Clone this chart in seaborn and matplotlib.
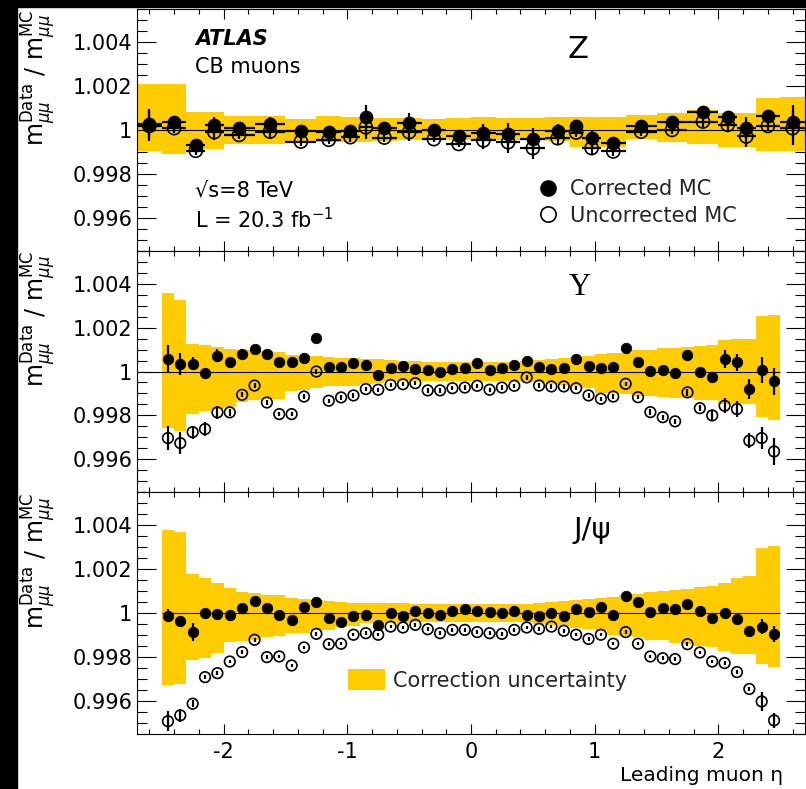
import numpy as np
import pandas as pd
import matplotlib
matplotlib.use("Agg")
import matplotlib.pyplot as plt
import seaborn as sns
from matplotlib.ticker import MultipleLocator
from matplotlib.lines import Line2D
from matplotlib.patches import Patch, Rectangle

# ---------------- data (deviations from 1 in units of 1e-3) ----------------
# Z panel: variable eta bins
z_edges = [-2.7, -2.5, -2.3, -2.15, -2.0, -1.75, -1.5, -1.25, -1.05, -0.9, -0.8, -0.6,
           -0.4, -0.2, 0.0, 0.2, 0.4, 0.6, 0.8, 0.9, 1.05, 1.25, 1.5, 1.75, 2.0, 2.15,
           2.3, 2.5, 2.7]
z_corr = [0.27, 0.36, -0.71, 0.23, 0.10, 0.27, -0.05, -0.08, -0.04, 0.60, 0.08, 0.33,
          0.00, -0.27, -0.12, -0.20, -0.42, -0.05, 0.20, -0.35, -0.58, 0.18, 0.38, 0.80,
          0.60, 0.08, 0.64, 0.38]
z_unc = [0.18, 0.08, -0.95, -0.10, -0.23, -0.08, -0.53, -0.45, -0.33, 0.12, -0.35, -0.10,
         -0.42, -0.64, -0.48, -0.56, -0.83, -0.38, -0.12, -0.83, -0.98, -0.08, 0.00, 0.38,
         0.23, -0.30, 0.18, 0.08]
z_err = [0.70, 0.20, 0.20, 0.38, 0.20, 0.30, 0.20, 0.20, 0.20, 0.53, 0.20, 0.42,
         0.15, 0.15, 0.40, 0.50, 0.50, 0.30, 0.20, 0.30, 0.20, 0.20, 0.20, 0.25,
         0.25, 0.50, 0.25, 0.76]
z_band_hi = [2.10, 2.10, 0.80, 0.80, 0.65, 0.65, 0.50, 0.65, 0.60, 0.60, 0.55, 0.55,
             0.50, 0.55, 0.60, 0.55, 0.55, 0.60, 0.60, 0.60, 0.60, 0.68, 0.76, 0.90,
             0.76, 0.76, 1.45, 1.50]
z_band_lo = [-0.95, -1.10, -0.85, -0.85, -0.65, -0.65, -0.60, -0.55, -0.55, -0.55, -0.50, -0.45,
             -0.45, -0.45, -0.45, -0.45, -0.45, -0.50, -0.80, -0.80, -0.80, -0.40, -0.53, -0.64,
             -0.76, -0.76, -0.95, -0.98]

# Upsilon and J/psi panels: 0.1-wide eta bins
fine_eta = [-2.45, -2.35, -2.25, -2.15, -2.05, -1.95, -1.85, -1.75, -1.65, -1.55,
            -1.45, -1.35, -1.25, -1.15, -1.05, -0.95, -0.85, -0.75, -0.65, -0.55,
            -0.45, -0.35, -0.25, -0.15, -0.05, 0.05, 0.15, 0.25, 0.35, 0.45,
            0.55, 0.65, 0.75, 0.85, 0.95, 1.05, 1.15, 1.25, 1.35, 1.45,
            1.55, 1.65, 1.75, 1.85, 1.95, 2.05, 2.15, 2.25, 2.35, 2.45]
fine_width = 0.1

y_corr = [0.56, 0.35, 0.35, -0.08, 0.71, 0.42, 0.80, 1.03, 0.79, 0.41,
          0.41, 0.61, 1.52, 0.20, 0.20, 0.38, 0.30, -0.15, 0.15, 0.23,
          0.12, 0.05, -0.03, 0.12, 0.18, 0.38, 0.08, 0.18, 0.30, 0.48,
          0.20, 0.11, 0.18, 0.56, 0.26, 0.18, 0.20, 1.06, 0.42, 0.03,
          0.08, -0.08, 0.73, 0.00, -0.23, 0.56, 0.41, -0.80, 0.08, -0.45]
y_unc = [-3.03, -3.26, -2.76, -2.62, -1.86, -1.86, -1.06, -0.64, -1.41, -1.94,
         -1.94, -1.14, 0.00, -1.33, -1.18, -1.09, -0.80, -0.83, -0.61, -0.58,
         -0.53, -0.86, -0.86, -0.76, -0.73, -0.65, -0.83, -0.73, -0.65, -0.27,
         -0.64, -0.68, -0.68, -0.76, -1.09, -1.24, -1.14, -0.56, -1.17, -1.85,
         -2.08, -2.27, -0.95, -1.67, -2.00, -1.56, -1.71, -3.15, -3.03, -3.64]
y_corr_err = [0.65, 0.50, 0.30, 0.25, 0.30, 0.15, 0.12, 0.12, 0.12, 0.10,
              0.10, 0.10, 0.10, 0.10, 0.10, 0.10, 0.10, 0.10, 0.10, 0.10,
              0.10, 0.10, 0.10, 0.10, 0.10, 0.10, 0.10, 0.10, 0.10, 0.10,
              0.10, 0.10, 0.10, 0.10, 0.10, 0.10, 0.10, 0.10, 0.10, 0.12,
              0.12, 0.12, 0.20, 0.15, 0.20, 0.40, 0.40, 0.45, 0.60, 0.60]
y_unc_err = [0.55, 0.50, 0.30, 0.30, 0.30, 0.15, 0.12, 0.12, 0.12, 0.10,
             0.10, 0.10, 0.10, 0.10, 0.10, 0.10, 0.10, 0.10, 0.10, 0.10,
             0.10, 0.10, 0.10, 0.10, 0.10, 0.10, 0.10, 0.10, 0.10, 0.10,
             0.10, 0.10, 0.10, 0.10, 0.10, 0.10, 0.10, 0.10, 0.10, 0.12,
             0.12, 0.12, 0.15, 0.15, 0.20, 0.35, 0.35, 0.35, 0.50, 0.60]
y_band_hi = [3.56, 3.26, 1.26, 1.21, 1.10, 1.03, 1.00, 0.98, 0.93, 0.90,
             0.75, 0.71, 0.70, 0.68, 0.62, 0.60, 0.58, 0.56, 0.53, 0.50,
             0.47, 0.45, 0.45, 0.45, 0.43, 0.42, 0.42, 0.43, 0.45, 0.50,
             0.53, 0.58, 0.62, 0.65, 0.70, 0.80, 0.82, 0.85, 0.98, 1.00,
             1.06, 1.08, 1.10, 1.17, 1.20, 1.44, 1.46, 1.50, 2.53, 2.55]
y_band_lo = [-2.55, -2.70, -1.94, -1.82, -1.70, -1.60, -1.40, -1.29, -1.27, -1.26,
             -0.90, -0.83, -0.75, -0.68, -0.66, -0.65, -0.58, -0.53, -0.45, -0.45,
             -0.45, -0.45, -0.43, -0.42, -0.42, -0.42, -0.42, -0.42, -0.43, -0.45,
             -0.48, -0.55, -0.62, -0.68, -0.75, -0.98, -1.00, -1.02, -1.10, -1.12,
             -1.18, -1.20, -1.22, -1.29, -1.30, -1.48, -1.48, -1.50, -2.05, -2.23]

j_corr = [-0.11, -0.35, -0.86, 0.00, -0.03, -0.08, 0.23, 0.56, 0.23, -0.08,
          -0.33, 0.27, 0.50, -0.23, -0.42, -0.15, -0.08, -0.56, 0.00, -0.12,
          0.08, 0.03, -0.08, 0.12, 0.20, 0.08, 0.05, 0.00, 0.11, -0.08,
          -0.11, 0.00, -0.15, 0.18, 0.05, 0.26, -0.08, 0.79, 0.50, 0.05,
          0.23, 0.20, 0.41, 0.11, -0.23, 0.03, -0.27, -0.83, -0.61, -0.94]
j_unc = [-4.92, -4.65, -4.12, -2.91, -2.73, -2.20, -1.77, -1.21, -2.00, -1.97,
         -2.38, -1.56, -0.94, -1.41, -1.39, -0.98, -0.91, -0.98, -0.61, -0.65,
         -0.53, -0.73, -0.91, -0.76, -0.76, -0.86, -0.91, -0.94, -0.76, -0.65,
         -0.71, -0.61, -0.80, -0.98, -1.17, -0.98, -1.39, -0.86, -1.39, -1.97,
         -2.05, -2.09, -1.41, -1.79, -2.20, -2.27, -2.68, -3.45, -4.02, -4.88]
j_corr_err = [0.30, 0.15, 0.40, 0.08, 0.08, 0.08, 0.08, 0.08, 0.08, 0.08,
              0.08, 0.08, 0.08, 0.08, 0.08, 0.08, 0.08, 0.08, 0.08, 0.08,
              0.08, 0.08, 0.08, 0.08, 0.08, 0.08, 0.08, 0.08, 0.08, 0.08,
              0.08, 0.08, 0.08, 0.08, 0.08, 0.08, 0.08, 0.08, 0.08, 0.08,
              0.08, 0.08, 0.08, 0.08, 0.08, 0.08, 0.10, 0.15, 0.35, 0.35]
j_unc_err = [0.45, 0.30, 0.15, 0.08, 0.08, 0.08, 0.08, 0.08, 0.08, 0.08,
             0.08, 0.08, 0.08, 0.08, 0.08, 0.08, 0.08, 0.08, 0.08, 0.08,
             0.08, 0.08, 0.08, 0.08, 0.08, 0.08, 0.08, 0.08, 0.08, 0.08,
             0.08, 0.08, 0.08, 0.08, 0.08, 0.08, 0.08, 0.08, 0.08, 0.08,
             0.08, 0.08, 0.08, 0.08, 0.08, 0.08, 0.10, 0.10, 0.45, 0.35]
j_band_hi = [3.79, 3.71, 1.79, 1.59, 1.39, 1.14, 0.95, 0.91, 0.85, 0.83,
             0.70, 0.66, 0.60, 0.56, 0.50, 0.48, 0.46, 0.45, 0.45, 0.45,
             0.44, 0.44, 0.43, 0.43, 0.42, 0.42, 0.42, 0.42, 0.42, 0.43,
             0.48, 0.52, 0.55, 0.62, 0.65, 0.68, 0.76, 0.84, 0.88, 0.96,
             1.00, 1.04, 1.08, 1.18, 1.24, 1.39, 1.60, 1.70, 2.95, 3.06]
j_band_lo = [-3.29, -3.21, -2.15, -2.05, -1.82, -1.29, -1.25, -1.21, -1.08, -1.05,
             -0.92, -0.90, -0.78, -0.75, -0.62, -0.60, -0.46, -0.45, -0.45, -0.43,
             -0.42, -0.42, -0.42, -0.42, -0.41, -0.38, -0.38, -0.38, -0.38, -0.40,
             -0.50, -0.56, -0.58, -0.66, -0.70, -0.83, -0.98, -1.04, -1.08, -1.20,
             -1.22, -1.34, -1.38, -1.50, -1.54, -1.74, -1.84, -1.86, -2.32, -2.45]

x_major_ticks = [-2, -1, 0, 1, 2]
y_tick_labels = ["0.996", "0.998", "1", "1.002", "1.004"]

# ---------------- style ----------------
sns.set_theme(style="ticks")
plt.rcParams["font.family"] = ["DejaVu Sans"]
plt.rcParams["mathtext.fontset"] = "dejavusans"
plt.rcParams["axes.unicode_minus"] = False
plt.rcParams["axes.edgecolor"] = "black"
plt.rcParams["axes.linewidth"] = 0.8

YELLOW = "#FFCC00"
SCALE = 1e-3

fig = plt.figure(figsize=(8.06, 7.89), dpi=100)
fig.patch.set_facecolor("white")
# black scan borders of the original image
fig.add_artist(Rectangle((0, 0), 17 / 806, 1, transform=fig.transFigure,
                         color="black", zorder=-5))
fig.add_artist(Rectangle((0, 1 - 7 / 789), 1, 7 / 789, transform=fig.transFigure,
                         color="black", zorder=-5))

L, W = 137 / 806, 668 / 806
H = 241.6 / 789
bottoms = [1 - 250.7 / 789, 1 - 492.3 / 789, 1 - 734 / 789]
axes = [fig.add_axes([L, b, W, H]) for b in bottoms]


def style_axis(ax, show_xlabels):
    ax.set_facecolor("white")
    ax.set_xlim(-2.7, 2.7)
    ax.set_ylim(0.9945, 1.0055)
    ax.set_xticks(x_major_ticks)
    ax.xaxis.set_minor_locator(MultipleLocator(0.2))
    ax.set_yticks([1 + v * SCALE for v in (-4, -2, 0, 2, 4)])
    ax.set_yticklabels(y_tick_labels)
    ax.yaxis.set_minor_locator(MultipleLocator(0.0005))
    ax.tick_params(which="both", direction="in", top=True, right=True,
                   width=0.8, color="black", labelcolor="black")
    ax.tick_params(axis="y", which="major", length=14, labelsize=15, pad=3.5)
    ax.tick_params(axis="y", which="minor", length=7)
    ax.tick_params(axis="x", which="major", length=7, labelsize=15, pad=5.5)
    ax.tick_params(axis="x", which="minor", length=3.5)
    if not show_xlabels:
        ax.tick_params(axis="x", labelbottom=False)
    for s in ax.spines.values():
        s.set_color("black")
        s.set_linewidth(0.8)
    ax.set_ylabel(r"$\mathrm{m}_{\mu\mu}^{\mathrm{Data}}$ / $\mathrm{m}_{\mu\mu}^{\mathrm{MC}}$",
                  fontsize=17, loc="top", color="black")
    ax.yaxis.set_label_coords(-0.118, 1.0)


def draw_band(ax, centers, widths, lo, hi):
    lo = np.asarray(lo) * SCALE
    hi = np.asarray(hi) * SCALE
    ax.bar(centers, hi - lo, bottom=1 + lo, width=widths, color=YELLOW,
           linewidth=0, align="center", zorder=1)


def draw_points(ax, x, corr, unc, corr_err, unc_err, xerr, size):
    corr_v = 1 + np.asarray(corr) * SCALE
    unc_v = 1 + np.asarray(unc) * SCALE
    ax.errorbar(x, unc_v, yerr=np.asarray(unc_err) * SCALE, xerr=xerr, fmt="none",
                ecolor="black", elinewidth=1.6, capsize=0, zorder=3)
    ax.errorbar(x, corr_v, yerr=np.asarray(corr_err) * SCALE, xerr=xerr, fmt="none",
                ecolor="black", elinewidth=1.6, capsize=0, zorder=3)
    df_u = pd.DataFrame({"eta": x, "ratio": unc_v})
    df_c = pd.DataFrame({"eta": x, "ratio": corr_v})
    sns.scatterplot(data=df_u, x="eta", y="ratio", ax=ax, marker="o", s=size,
                    facecolors="none", edgecolor="black", linewidth=1.2, zorder=4,
                    legend=False)
    sns.scatterplot(data=df_c, x="eta", y="ratio", ax=ax, marker="o", s=size,
                    color="black", edgecolor="black", linewidth=0.5, zorder=5,
                    legend=False)
    ax.set_xlabel("")
    ax.set_ylabel("")


# ---------------- Z panel ----------------
ax = axes[0]
ze = np.asarray(z_edges)
z_centers = (ze[:-1] + ze[1:]) / 2
z_widths = ze[1:] - ze[:-1]
draw_band(ax, z_centers, z_widths, z_band_lo, z_band_hi)
ax.axhline(1.0, color="black", lw=0.8, zorder=2)
draw_points(ax, z_centers, z_corr, z_unc, z_err, z_err, z_widths / 2, 88)
style_axis(ax, False)
ax.text(0.087, 0.878, "ATLAS", transform=ax.transAxes, fontsize=15,
        fontweight="bold", fontstyle="italic", va="center", ha="left", color="black")
ax.text(0.087, 0.760, "CB muons", transform=ax.transAxes, fontsize=15,
        va="center", ha="left", color="black")
ax.text(0.087, 0.251, "√s=8 TeV", transform=ax.transAxes, fontsize=15,
        va="center", ha="left", color="black")
ax.text(0.087, 0.128, r"L = 20.3 fb$^{\mathregular{-1}}$", transform=ax.transAxes,
        fontsize=15, va="center", ha="left", color="black")
ax.text(0.660, 0.834, "Z", transform=ax.transAxes, fontsize=22,
        va="center", ha="center", color="black")
handles = [Line2D([], [], marker="o", ls="none", markersize=11,
                  markerfacecolor="black", markeredgecolor="black"),
           Line2D([], [], marker="o", ls="none", markersize=11,
                  markerfacecolor="none", markeredgecolor="black", markeredgewidth=1.2)]
ax.legend(handles, ["Corrected MC", "Uncorrected MC"], loc="center left",
          bbox_to_anchor=(0.599, 0.199), frameon=False, fontsize=15,
          handlelength=1.0, handletextpad=0.6, labelspacing=0.3,
          borderpad=0, borderaxespad=0)

# ---------------- Upsilon panel ----------------
ax = axes[1]
draw_band(ax, fine_eta, fine_width, y_band_lo, y_band_hi)
ax.hlines(1.0, -2.7, 2.5, color="black", lw=0.8, zorder=2)
draw_points(ax, fine_eta, y_corr, y_unc, y_corr_err, y_unc_err, None, 58)
style_axis(ax, False)
ax.text(0.663, 0.846, "Υ", transform=ax.transAxes, fontsize=22,
        family="Liberation Serif", va="center", ha="center", color="black")

# ---------------- J/psi panel ----------------
ax = axes[2]
draw_band(ax, fine_eta, fine_width, j_band_lo, j_band_hi)
ax.hlines(1.0, -2.5, 2.5, color="black", lw=0.8, zorder=2)
draw_points(ax, fine_eta, j_corr, j_unc, j_corr_err, j_unc_err, None, 58)
style_axis(ax, True)
ax.text(0.681, 0.844, "J/ψ", transform=ax.transAxes, fontsize=21,
        va="center", ha="center", color="black")
ax.legend([Patch(facecolor=YELLOW, edgecolor="none")], ["Correction uncertainty"],
          loc="center left", bbox_to_anchor=(0.316, 0.223), frameon=False,
          fontsize=15, handlelength=1.78, handleheight=1.15, handletextpad=0.38,
          borderpad=0, borderaxespad=0)
ax.set_xlabel("Leading muon η", fontsize=14.5, loc="right", color="black")
ax.xaxis.set_label_coords(0.967, -0.131)

fig.savefig("out.png", dpi=100, facecolor=fig.get_facecolor())
